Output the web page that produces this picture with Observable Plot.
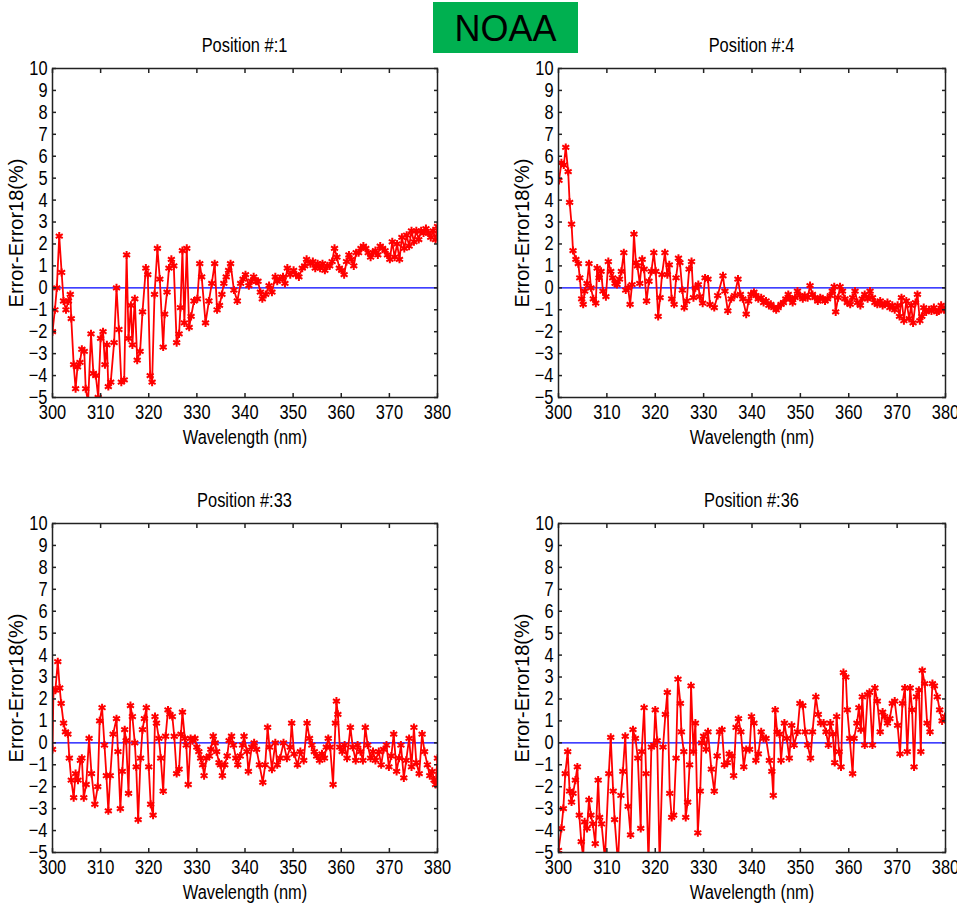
<!DOCTYPE html>
<html><head><meta charset="utf-8">
<script src="https://cdn.jsdelivr.net/npm/d3@7"></script>
<script src="https://cdn.jsdelivr.net/npm/@observablehq/plot@0.6"></script>
<style>
body{margin:0;background:#fff;}
#root{position:relative;width:957px;height:903px;overflow:hidden;}
.panel{position:absolute;}
.title{position:absolute;text-align:center;font-family:"Liberation Sans",Arial,sans-serif;font-size:20px;line-height:20px;color:#000;transform:scaleX(0.82);}
#noaa{position:absolute;left:433px;top:2px;width:145px;height:51px;background:#00B050;color:#000;font-family:"Liberation Sans",Arial,sans-serif;font-size:36px;line-height:53px;text-align:center;}
</style></head>
<body><div id="root"><div id="noaa">NOAA</div></div>
<script>
const xTicks = [300,310,320,330,340,350,360,370,380];
const yTicks = [-5,-4,-3,-2,-1,0,1,2,3,4,5,6,7,8,9,10];
const titles = ["Position #:1","Position #:4","Position #:33","Position #:36"];

const pos1 = [[300,-2.0],[300.5,-1.0],[300.9,0.0],[301.4,2.36],[301.9,0.7],[302.3,-0.6],[302.8,-1.0],[303.3,-0.6],[303.7,-0.3],[303.9,-1.4],[304.4,-3.5],[304.8,-4.6],[305.2,-3.6],[305.7,-3.4],[306.1,-2.8],[306.6,-2.9],[306.9,-4.6],[307.4,-5.2],[308,-2.1],[308.5,-3.9],[309,-4.0],[309.5,-5.0],[310,-2.3],[310.5,-2.0],[310.9,-3.5],[311.3,-2.6],[311.6,-4.5],[312.1,-4.3],[312.8,-2.5],[313.3,0.0],[313.8,-1.9],[314.3,-4.3],[314.9,-4.2],[315.4,1.5],[315.8,-2.3],[316.3,-0.8],[316.6,-2.6],[317.1,-0.5],[317.6,-3.3],[318.2,-2.9],[318.7,-1.1],[319.4,0.9],[319.8,0.6],[320.3,-4.0],[320.7,-4.3],[321.2,-0.3],[321.8,1.8],[322.3,0.4],[323,-2.7],[323.3,-1.2],[323.8,-0.2],[324.2,0.9],[324.7,1.3],[325.2,1.0],[325.8,-2.5],[326.3,-2.1],[326.6,-0.9],[327,1.7],[327.4,-1.6],[327.9,1.8],[328.4,-1.8],[328.8,-1.3],[329.4,-0.6],[330.1,-0.5],[330.6,1.1],[331,0.5],[331.8,-1.6],[332.5,-0.6],[333.1,0.2],[333.7,1.1],[334.2,-1.0],[334.7,-0.8],[335.2,-0.3],[335.6,0.2],[336.1,0.5],[336.6,0.8],[337,1.1],[337.7,-0.1],[338.4,-0.6],[339.1,0.2],[339.6,0.4],[340.1,0.6],[340.8,0.1],[341.3,0.3],[341.8,0.5],[342.3,0.3],[342.7,0.3],[343.2,-0.2],[343.6,-0.5],[344.3,-0.3],[345,0.1],[345.6,-0.2],[346.3,0.5],[346.7,0.3],[347.2,0.4],[347.9,0.5],[348.3,0.2],[348.8,0.9],[349.4,0.6],[350.1,0.8],[350.6,0.6],[351.2,0.5],[351.9,0.9],[352.4,1.0],[352.8,1.3],[353.6,1.1],[354.1,1.2],[354.6,0.9],[355.1,1.1],[355.6,0.9],[356.1,1.1],[356.6,0.8],[357.1,1.0],[357.6,1.0],[358.1,1.2],[358.6,1.8],[359.1,1.4],[359.6,0.9],[360.1,0.8],[360.6,0.6],[361.1,1.2],[361.6,1.5],[362.1,1.3],[362.6,1.0],[363.1,1.6],[363.6,1.6],[364.1,1.8],[364.6,1.9],[365.1,1.8],[365.6,1.6],[366.1,1.4],[366.6,1.6],[367.1,1.7],[367.6,1.5],[368.1,1.9],[368.6,1.8],[369.1,1.7],[369.6,1.5],[370.1,1.3],[370.6,2.1],[371.1,1.4],[371.6,2.0],[372.1,1.3],[372.6,2.3],[373.1,1.8],[373.6,2.4],[374.1,1.9],[374.6,2.6],[375.1,2.1],[375.6,2.6],[376.1,2.2],[376.6,2.6],[377.1,2.5],[377.6,2.7],[378.1,2.5],[378.6,2.3],[379.1,2.6],[379.6,2.2],[380,2.8]];

const pos4 = [[300.1,4.9],[300.6,5.7],[301.1,5.6],[301.5,6.4],[302,5.3],[302.3,3.9],[302.7,2.9],[303,1.7],[303.6,1.3],[304.1,1.1],[304.4,0.45],[304.8,-0.5],[305.1,-0.75],[305.4,-0.15],[305.9,0.2],[306.3,1.1],[306.7,0.0],[307.2,-0.5],[307.7,-0.7],[308,0.9],[308.4,0.45],[308.8,0.75],[309.2,-0.15],[309.8,-0.4],[310.3,1.2],[310.8,0.75],[311.2,0.45],[311.7,0.2],[312.1,0.15],[312.6,0.4],[313,0.75],[313.5,1.6],[313.9,-0.1],[314.4,0.0],[314.8,-0.75],[315.2,0.15],[315.6,2.45],[316,1.15],[316.3,1.0],[316.8,0.2],[317.3,1.3],[317.7,0.85],[318.2,-0.6],[318.7,0.3],[319.2,0.75],[319.7,1.6],[320.1,0.75],[320.6,-1.3],[321,-0.45],[321.4,0.6],[322,1.6],[322.5,0.6],[322.9,1.05],[323.4,-0.5],[323.9,-0.75],[324.3,0.45],[324.8,1.35],[325.1,1.15],[325.6,-0.1],[326,-0.9],[326.5,-0.6],[327,0.85],[327.5,1.2],[327.9,-0.45],[328.3,0.0],[328.9,0.15],[329.2,-0.4],[329.8,-0.7],[330.3,0.45],[330.9,0.4],[331.3,-0.75],[332.2,-0.9],[332.9,-0.35],[334,0.55],[334.4,-0.15],[335,-1.05],[335.7,-0.5],[336.4,-0.35],[337.1,0.4],[337.6,-0.3],[338.1,-0.5],[338.8,-1.2],[339.3,-0.6],[339.8,-0.3],[340.4,-0.2],[340.8,-0.35],[341.3,-0.5],[341.9,-0.45],[342.4,-0.67],[342.9,-0.6],[343.5,-0.8],[343.9,-0.75],[344.5,-0.9],[345,-1.0],[345.4,-0.9],[346,-0.75],[346.5,-0.67],[347,-0.5],[347.5,-0.3],[347.9,-0.5],[348.4,-0.67],[348.9,-0.45],[349.4,-0.15],[349.9,-0.35],[350.5,-0.5],[350.9,-0.35],[351.5,-0.45],[352,0.1],[352.5,-0.3],[353,-0.45],[353.6,-0.6],[354.1,-0.45],[354.6,-0.5],[355.1,-0.6],[355.6,-0.5],[356.2,-0.35],[356.6,-0.15],[357,0.05],[357.3,-1.1],[357.8,-0.45],[358.2,0.05],[358.7,-0.15],[359.2,-0.5],[359.7,-0.67],[360.3,-0.75],[360.8,-0.45],[361.3,-0.15],[361.8,-0.67],[362.4,-0.8],[362.8,-0.5],[363.3,-0.3],[363.9,-0.5],[364.4,-0.15],[364.9,-0.45],[365.4,-0.67],[365.9,-0.75],[366.5,-0.6],[367,-0.8],[367.4,-0.75],[368,-0.67],[368.5,-0.9],[369,-0.8],[369.5,-1.0],[370.1,-0.8],[370.5,-1.3],[370.9,-0.45],[371.4,-1.5],[371.9,-0.6],[372.5,-1.4],[372.9,-0.8],[373.3,-1.6],[373.8,-0.67],[374.2,-0.3],[374.7,-1.5],[375.1,-1.3],[375.5,-0.9],[376,-1.1],[376.6,-1.0],[377.1,-1.05],[377.6,-0.9],[378.2,-1.1],[378.6,-1.05],[379.1,-0.8],[379.7,-1.0],[380,-0.9]];

const pos33 = [[300,-0.3],[300.2,2.4],[300.6,2.4],[301.1,3.7],[301.5,2.5],[301.8,1.8],[302.3,0.9],[302.7,0.5],[303.2,0.4],[303.5,-0.7],[303.9,-1.7],[304.4,-2.5],[304.8,-1.4],[305.3,-1.7],[305.8,-0.8],[306.1,-0.7],[306.5,-2.5],[307,-1.9],[307.6,0.2],[308.1,-1.4],[308.8,-2.8],[309.4,-2.0],[309.8,1.0],[310.3,1.6],[310.8,-0.1],[311.2,-1.5],[311.6,-3.1],[312,-1.5],[312.6,0.4],[313.3,1.1],[313.6,-0.4],[314.1,-3.0],[314.5,-1.3],[315,0.6],[315.3,0.1],[315.8,-2.3],[316.2,1.7],[316.6,1.2],[317.1,0.0],[317.4,-1.1],[317.8,-3.5],[318.3,-0.7],[318.7,0.6],[319.1,1.1],[319.5,1.6],[320,-1.1],[320.4,-2.8],[320.9,-3.3],[321.3,1.2],[321.6,0.9],[322.1,0.2],[322.5,-0.7],[323,-2.2],[323.5,0.3],[324,1.5],[324.4,1.3],[324.9,1.2],[325.3,0.3],[325.8,-1.4],[326.3,-1.2],[326.7,0.4],[327,1.4],[327.5,0.2],[327.8,-0.1],[328.2,-1.9],[328.7,0.2],[329.1,0.1],[329.6,0.2],[330,-0.2],[330.4,-0.4],[330.8,-0.7],[331.2,-1.0],[331.5,-1.5],[332,-0.7],[332.6,-0.6],[332.9,-0.3],[333.4,0.3],[333.8,0.0],[334.1,-0.4],[334.6,-0.9],[334.9,-1.0],[335.3,-1.5],[335.8,-1.0],[336.3,-0.6],[336.7,0.1],[337.2,0.3],[337.6,-0.1],[338.1,-0.7],[338.5,-1.0],[339,-0.6],[339.5,-0.1],[339.8,0.3],[340.4,-0.4],[340.7,-1.3],[341.4,-0.2],[341.9,0.0],[342.4,-0.3],[343,-1.0],[343.7,-1.8],[344.2,-1.0],[344.7,0.7],[345.1,-0.2],[345.6,-1.2],[346.3,0.0],[346.7,-1.0],[347.3,-0.7],[348,0.0],[348.7,-0.7],[349.4,-0.2],[349.7,0.9],[350.2,-0.5],[350.9,-1.0],[351.5,-0.4],[352.2,-0.8],[352.9,0.9],[353.4,0.2],[353.9,-0.1],[354.4,-0.4],[354.9,-0.6],[355.5,-0.8],[356,-0.5],[356.5,-0.7],[356.9,-0.2],[357.3,0.2],[357.7,-0.2],[358.3,-1.9],[358.8,0.9],[359,1.9],[359.3,1.3],[359.7,-0.2],[360.2,-0.4],[360.7,-0.1],[361.2,-0.7],[361.9,0.7],[362.4,-0.2],[363,-0.8],[363.4,-0.1],[364,-0.4],[364.5,-0.8],[365,0.7],[365.5,-0.1],[366.1,-0.7],[366.6,-0.4],[367.1,-0.8],[367.8,-0.4],[368.3,-1.0],[368.8,-0.3],[369.4,-0.1],[369.9,-1.1],[370.4,-0.6],[370.9,0.4],[371.5,-1.3],[372,-0.7],[372.4,-0.1],[373,-1.6],[373.5,-0.8],[374.1,0.2],[374.6,-1.1],[375.1,0.7],[375.6,-0.9],[376.2,-1.4],[376.8,0.4],[377.3,-0.4],[377.9,-1.0],[378.4,-1.5],[378.9,-1.3],[379.3,-1.7],[379.6,-1.9],[380,-0.7]];

const pos36 = [[300,-4.9],[300.6,-3.9],[301,-3.0],[301.4,-1.4],[301.9,-0.4],[302.3,-2.2],[302.7,-2.7],[303,-2.3],[303.5,-1.7],[303.9,-1.1],[304.3,-3.3],[304.7,-4.5],[305.1,-5.2],[305.4,-3.6],[305.9,-3.9],[306.3,-2.6],[306.7,-3.3],[307.1,-3.7],[307.6,-4.6],[308.2,-1.7],[308.5,-3.4],[308.9,-3.7],[309.6,-5.3],[310.4,-1.4],[310.8,0.25],[311.3,-2.2],[311.6,-3.5],[312.3,-5.5],[312.9,-2.4],[313.3,-1.3],[313.8,0.3],[314.4,-2.9],[314.9,-4.2],[315.4,0.6],[315.9,0.2],[316.4,-0.7],[317,-3.9],[317.2,-0.4],[317.7,1.6],[318.1,-1.4],[318.6,-5.5],[319.2,-0.2],[319.7,-0.1],[320,1.5],[320.4,0.1],[320.9,-5.5],[321.6,-0.2],[322.1,1.3],[322.5,2.3],[323,-2.3],[323.4,-3.4],[323.8,-3.3],[324.3,-0.7],[324.7,2.9],[325.2,1.8],[325.4,0.5],[325.9,-0.4],[326.3,-3.4],[326.7,-2.7],[327.1,-1.0],[327.4,2.6],[327.9,-0.4],[328.3,0.9],[328.8,-4.1],[329.3,-2.2],[329.6,0.0],[330,0.3],[330.5,-0.3],[330.9,0.5],[331.6,-1.2],[332.2,-2.2],[332.8,-0.6],[333.3,0.5],[333.8,0.6],[334.3,-1.0],[334.9,-0.9],[335.3,-0.5],[335.8,-0.6],[336.2,-1.5],[336.7,0.7],[337.2,1.1],[337.7,0.5],[338.3,-1.1],[338.8,-0.3],[339.5,-0.3],[339.9,1.2],[340.4,0.9],[340.8,-0.8],[341.3,-0.5],[341.9,0.5],[342.4,0.2],[342.9,0.2],[343.6,-0.8],[344.1,-1.3],[344.4,-2.4],[344.8,1.5],[345.2,0.5],[345.7,0.4],[346,-0.8],[346.7,0.9],[347.2,0.2],[347.7,-0.7],[348.2,0.8],[348.7,-0.1],[349.4,0.5],[349.9,1.8],[350.5,1.7],[351,0.5],[351.5,-0.1],[352.1,-0.7],[352.5,0.5],[353.2,2.1],[353.7,1.3],[354.2,0.9],[354.8,0.9],[355.3,0.5],[355.8,-0.1],[356.2,0.9],[356.7,0.4],[357.1,-0.9],[357.5,1.2],[358,-0.4],[358.4,-1.1],[358.9,3.2],[359.4,3.0],[359.7,1.5],[360.2,0.2],[360.8,-1.4],[361.1,0.2],[361.7,0.9],[362.1,1.6],[362.5,0.6],[362.8,2.1],[363.3,-0.1],[363.9,2.2],[364.3,2.3],[364.9,-0.1],[365.4,2.5],[365.9,1.9],[366.5,0.5],[367,1.4],[367.4,1.2],[368,0.9],[368.5,1.1],[369,1.8],[369.5,1.9],[370.1,0.8],[370.6,-0.5],[371.1,1.8],[371.6,2.5],[372.1,-0.4],[372.7,2.5],[373.1,1.5],[373.5,-1.1],[374,2.1],[374.5,2.4],[374.9,-0.4],[375.2,3.3],[375.7,2.7],[376.2,0.9],[376.8,0.5],[377.3,2.7],[377.7,2.6],[378.3,2.1],[378.8,1.5],[379.3,1.0],[379.9,1.2]];

const font = '"Liberation Sans",Arial,sans-serif';

// horizontally condense upright texts (the reference text is narrow)
function squeeze(svg, k) {
  svg.querySelectorAll("text").forEach(t => {
    const tr = (t.getAttribute("transform") || "") + (t.parentNode.getAttribute("transform") || "");
    if (/rotate/.test(tr)) return;
    if (!t.textContent) return;
    const len = t.getComputedTextLength();
    if (len > 0) {
      t.setAttribute("textLength", (len * k).toFixed(2));
      t.setAttribute("lengthAdjust", "spacingAndGlyphs");
    }
  });
}

function panel(data, title, left, top, width, mLeft, mRight) {
  const H = 400, mTop = 13, mBottom = 58;
  const chart = Plot.plot({
    width, height: H,
    marginTop: mTop, marginBottom: mBottom, marginLeft: mLeft, marginRight: mRight,
    style: {fontFamily: font, fontSize: "20px", color: "#000", background: "transparent", overflow: "visible"},
    x: {domain: [300, 380]},
    y: {domain: [-5, 10]},
    marks: [
      Plot.ruleY([0], {stroke: "#0000ff", strokeWidth: 1.4}),
      Plot.line(data, {x: d => d[0], y: d => d[1], stroke: "#ff0000", strokeWidth: 1.8, clip: true}),
      Plot.dot(data, {x: d => d[0], y: d => d[1], symbol: "asterisk", r: 3.8, stroke: "#ff0000", strokeWidth: 2, clip: true}),
      Plot.frame({stroke: "#222", strokeWidth: 1.5}),
      Plot.axisX({ticks: xTicks, tickSize: 0, tickPadding: 7, label: "Wavelength (nm)", labelAnchor: "center", labelOffset: 46, labelArrow: "none"}),
      Plot.axisY({ticks: yTicks, tickSize: 0, tickPadding: 5, label: null}),
      Plot.axisY({ticks: [], label: "Error-Error18(%)", labelAnchor: "center", labelOffset: 44, labelArrow: "none"}),
      Plot.axisX({anchor: "bottom", ticks: xTicks, tickSize: 4, dy: -4, tickFormat: () => "", fill: "none", label: null, stroke: "#222", strokeWidth: 1.5}),
      Plot.axisX({anchor: "top", ticks: xTicks, tickSize: 4, dy: 4, tickFormat: () => "", fill: "none", label: null, stroke: "#222", strokeWidth: 1.5}),
      Plot.axisY({anchor: "left", ticks: yTicks, tickSize: 4, dx: 4, tickFormat: () => "", fill: "none", label: null, stroke: "#222", strokeWidth: 1.5}),
      Plot.axisY({anchor: "right", ticks: yTicks, tickSize: 4, dx: -4, tickFormat: () => "", fill: "none", label: null, stroke: "#222", strokeWidth: 1.5})
    ]
  });
  const root = document.getElementById("root");
  const div = document.createElement("div");
  div.className = "panel";
  div.style.left = left + "px";
  div.style.top = top + "px";
  div.appendChild(chart);
  root.appendChild(div);
  squeeze(chart, 0.82);
  const t = document.createElement("div");
  t.className = "title";
  t.textContent = title;
  t.style.left = (left + mLeft) + "px";
  t.style.width = (width - mLeft - mRight) + "px";
  t.style.top = (top - 20) + "px";
  root.appendChild(t);
}

panel(pos1, titles[0], 0, 55, 478, 52, 41);
panel(pos4, titles[1], 505, 55, 452, 53, 12);
panel(pos33, titles[2], 0, 510, 478, 52, 41);
panel(pos36, titles[3], 505, 510, 452, 53, 12);
</script>
</body></html>
